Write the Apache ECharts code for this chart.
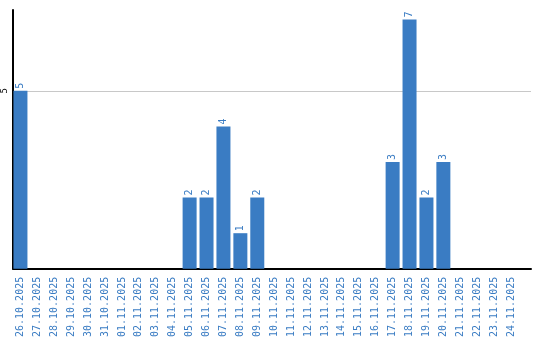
<!DOCTYPE html>
<html><head><meta charset="utf-8">
<script src="https://cdn.jsdelivr.net/npm/echarts@6/dist/echarts.min.js"></script>
<style>html,body{margin:0;padding:0;background:#fff}#c{width:540px;height:340px}</style>
</head><body><div id="c"></div>
<script>
const categories = ["26.10.2025","27.10.2025","28.10.2025","29.10.2025","30.10.2025","31.10.2025","01.11.2025","02.11.2025","03.11.2025","04.11.2025","05.11.2025","06.11.2025","07.11.2025","08.11.2025","09.11.2025","10.11.2025","11.11.2025","12.11.2025","13.11.2025","14.11.2025","15.11.2025","16.11.2025","17.11.2025","18.11.2025","19.11.2025","20.11.2025","21.11.2025","22.11.2025","23.11.2025","24.11.2025"];
const values = [5,0,0,0,0,0,0,0,0,0,2,2,4,1,2,0,0,0,0,0,0,0,3,7,2,3,0,0,0,0];
const yTicks = [5];

const chart = echarts.init(document.getElementById('c'));
const blue = '#3a7cc3';
chart.setOption({
  animation: false,
  grid: {left: 10.5, right: 9, top: 10, bottom: 70},
  xAxis: {
    type: 'value', min: -0.44, max: 30.18,
    axisLine: {show: true, onZero: false, lineStyle: {color: '#000', width: 2}},
    axisTick: {show: false},
    splitLine: {show: false},
    axisLabel: {
      rotate: 90, color: blue, fontFamily: 'DejaVu Sans Mono', fontSize: 10,
      customValues: categories.map((_, i) => i),
      formatter: v => categories[Math.round(v)] ?? ''
    }
  },
  yAxis: {
    type: 'value', min: 0, max: 7.27,
    axisLine: {show: true, onZero: false, lineStyle: {color: '#000', width: 2}},
    axisTick: {show: false, customValues: yTicks},
    splitLine: {show: true, lineStyle: {color: '#c8c8c8', width: 1}},
    axisLabel: {
      customValues: yTicks, rotate: 90, color: '#000', fontFamily: 'DejaVu Sans Mono', fontSize: 9, margin: 4
    }
  },
  series: [{
    type: 'bar',
    barWidth: 14,
    data: values.map((v, i) => v > 0 ? [i, v] : [i, null]),
    itemStyle: {color: blue},
    label: {
      show: true, position: 'top', rotate: 90, align: 'left', verticalAlign: 'middle',
      color: blue, fontFamily: 'DejaVu Sans Mono', fontSize: 10, distance: 2,
      formatter: p => p.value[1]
    }
  }]
});
</script></body></html>
